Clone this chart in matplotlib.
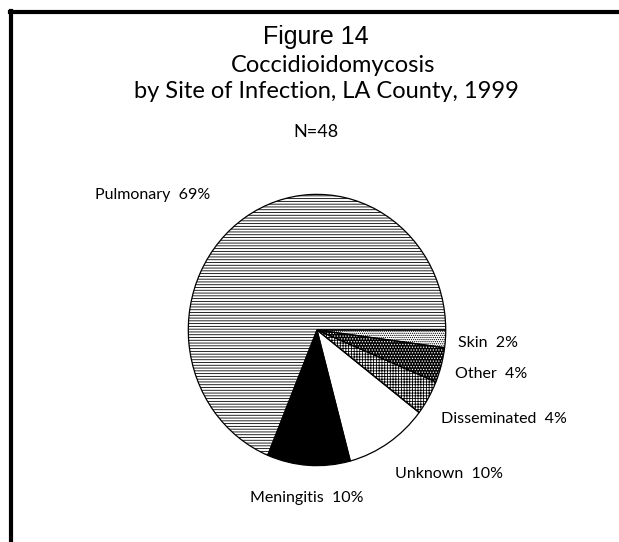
"""Coccidioidomycosis by site of infection, LA County 1999 - pie chart."""
import matplotlib
matplotlib.use("Agg")
from matplotlib import pyplot as plt
from matplotlib.lines import Line2D

labels = ["Skin", "Other", "Disseminated", "Unknown", "Meningitis", "Pulmonary"]
counts = [1, 2, 2, 5, 5, 33]
pct_text = ["2%", "4%", "4%", "10%", "10%", "69%"]
total_n = 48

W, H = 619, 542
plt.rcParams["hatch.linewidth"] = 0.6
fig = plt.figure(figsize=(W / 100, H / 100), dpi=100)


def fx(px):
    return px / W


def fy(py):
    return 1 - py / H


# pie area (a bit taller than wide, like the original)
ax = fig.add_axes([fx(187), fy(467), fx(447) - fx(187), fy(193) - fy(467)])

fills = ["white", "black", "white", "white", "black", "white"]
hatch_cols = ["black", "white", "black", "black", "black", "black"]
hatches = ["........", "......", "++++++", None, None, "------"]

wedges, _ = ax.pie(counts, startangle=0, counterclock=False, radius=1,
                   wedgeprops=dict(linewidth=0))
for w, fc, hc, h in zip(wedges, fills, hatch_cols, hatches):
    w.set_facecolor(fc)
    w.set_edgecolor(hc)
    w.set_linewidth(0)
    if h:
        w.set_hatch(h)

# outlines on top
ax.pie(counts, startangle=0, counterclock=False, radius=1,
       wedgeprops=dict(fill=False, edgecolor="black", linewidth=0.9))

ax.set_aspect("auto")
ax.set_xlim(-1.01, 1.01)
ax.set_ylim(-1.01, 1.01)
ax.axis("off")

# titles
fig.text(fx(316), fy(37), "Figure 14", ha="center", va="center",
         fontsize=18, family="Liberation Sans")
fig.text(fx(333), fy(66), "Coccidioidomycosis", ha="center", va="center",
         fontsize=17, family="Lato")
fig.text(fx(326), fy(92), "by Site of Infection, LA County, 1999", ha="center",
         va="center", fontsize=17, family="Lato")
fig.text(fx(316), fy(132), f"N={total_n}", ha="center", va="center",
         fontsize=13, family="Lato")

# slice labels
label_pos = [(458, 343, "left"), (455, 374, "left"), (441, 419, "left"),
             (395, 474, "left"), (250, 498, "left"), (210, 195, "right")]
for name, pct, (x, y, ha) in zip(labels, pct_text, label_pos):
    fig.text(fx(x), fy(y), f"{name}  {pct}", ha=ha, va="center",
             fontsize=11.5, family="Lato")

# frame lines (left and top)
fig.add_artist(Line2D([fx(11), fx(11)], [fy(11), 0], color="black", lw=3))
fig.add_artist(Line2D([fx(10), 1], [fy(12), fy(12)], color="black", lw=3))

fig.savefig("out.png", dpi=100)
plt.close(fig)
